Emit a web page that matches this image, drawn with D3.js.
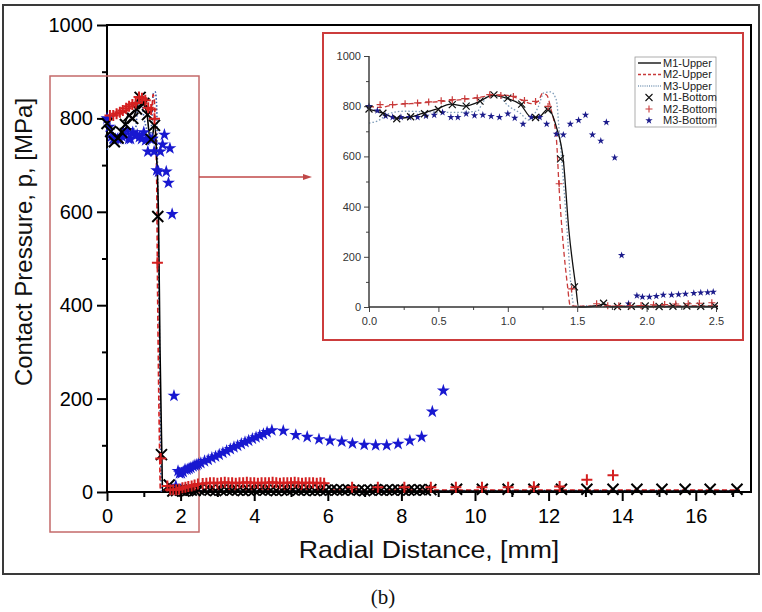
<!DOCTYPE html>
<html>
<head>
<meta charset="utf-8">
<script src="https://cdn.jsdelivr.net/npm/d3@7"></script>
<style>
  html, body { margin: 0; padding: 0; background: #fff; }
  svg { display: block; font-family: Arial, "Liberation Sans", sans-serif; }
</style>
</head>
<body>
<div id="chart"></div>
<script>
/// Tick labels
var mainXTicks = [0, 2, 4, 6, 8, 10, 12, 14, 16];
var mainXMinor = [1, 3, 5, 7, 9, 11, 13, 15, 17];
var mainYTicks = [0, 200, 400, 600, 800, 1000];
var mainYMinor = [100, 300, 500, 700, 900];
var insetXTicks = [0, 0.5, 1.0, 1.5, 2.0, 2.5];
var insetXMinor = [0.25, 0.75, 1.25, 1.75, 2.25];
var insetYTicks = [0, 200, 400, 600, 800, 1000];
var insetYMinor = [100, 300, 500, 700, 900];
var seriesNames = ["M1-Upper", "M2-Upper", "M3-Upper", "M1-Bottom", "M2-Bottom", "M3-Bottom"];

/// Upper surface (lines)
var m1UpperX = [0, 0.1, 0.2, 0.29, 0.39, 0.48, 0.59, 0.69, 0.79, 0.89, 1.0, 1.09, 1.17, 1.22, 1.29, 1.35, 1.40, 1.44, 1.49, 1.51, 1.6, 1.65, 1.69, 1.74, 1.85, 2.0, 3, 5, 8, 12, 17.2];
var m1UpperY = [787, 772, 752, 756, 772, 787, 808, 800, 817, 843, 830, 808, 756, 756, 788, 717, 585, 306, 80, 0, 2, 6, 12, 1, 2, 2, 2, 2, 2, 2, 2];
var m2UpperX = [0, 0.08, 0.17, 0.3, 0.5, 0.7, 0.85, 0.92, 1.0, 1.1, 1.17, 1.22, 1.25, 1.28, 1.31, 1.35, 1.37, 1.40, 1.43, 1.45, 1.5, 2.0, 4, 8, 12, 17.2];
var m2UpperY = [800, 795, 805, 810, 818, 828, 840, 845, 843, 825, 810, 820, 851, 845, 790, 670, 470, 245, 85, 5, 3, 4, 5, 4, 4, 4];
var m3UpperX = [0, 0.06, 0.15, 0.25, 0.4, 0.6, 0.78, 0.82, 0.86, 0.93, 1.0, 1.09, 1.15, 1.22, 1.26, 1.31, 1.35, 1.37, 1.40, 1.43, 1.46, 1.48, 1.55, 1.6, 1.7, 3, 8, 12, 17.2];
var m3UpperY = [733, 741, 772, 780, 778, 775, 780, 815, 840, 842, 803, 772, 745, 798, 853, 857, 824, 705, 506, 282, 57, 0, 5, 4, 2, 3, 3, 3, 3];

/// Bottom surface (markers)
var m1BottomX = [0, 0.1, 0.2, 0.3, 0.4, 0.5, 0.6, 0.7, 0.8, 0.9, 1.0, 1.1, 1.2, 1.29, 1.38, 1.48, 1.69, 1.79, 1.89, 1.99, 2.09, 2.19, 2.29, 2.39, 2.49,
  2.65, 2.8, 2.95, 3.1, 3.25, 3.4, 3.55, 3.7, 3.85, 4.0, 4.15, 4.3, 4.45, 4.6, 4.75, 4.9, 5.05, 5.2, 5.35, 5.5, 5.65, 5.8, 5.95,
  6.1, 6.25, 6.4, 6.55, 6.7, 6.85, 7.0, 7.15, 7.3, 7.45, 7.6, 7.75, 7.9, 8.05, 8.2, 8.35, 8.5, 8.65, 8.8,
  9.5, 10.2, 10.9, 11.6, 12.35, 13.04, 13.75, 14.4, 15.08, 15.71, 16.39, 17.12];
var m1BottomY = [789, 772, 750, 758, 770, 787, 806, 800, 820, 845, 832, 808, 755, 785, 590, 80, 15, 2, 3, 4, 2, 3, 4, 3, 5,
  4, 4, 3, 4, 5, 4, 4, 3, 4, 4, 5, 4, 4, 3, 4, 4, 5, 4, 4, 4, 3, 4, 4,
  5, 4, 4, 5, 4, 4, 3, 4, 5, 4, 4, 4, 5, 4, 4, 4, 5, 4, 5,
  6, 6, 6, 6, 6, 6, 6, 6, 6, 6, 6, 6];
var m2BottomX = [0.08, 0.17, 0.26, 0.35, 0.43, 0.52, 0.6, 0.69, 0.78, 0.87, 0.95, 1.04, 1.12, 1.2, 1.29, 1.37, 1.46, 1.64, 1.72, 1.8, 1.88, 1.96, 2.05, 2.13, 2.21, 2.3, 2.38, 2.47,
  2.6, 2.7, 2.8, 2.9, 3.0, 3.1, 3.2, 3.3, 3.4, 3.5, 3.6, 3.7, 3.8, 3.9, 4.0, 4.1, 4.2, 4.3, 4.4, 4.5, 4.6, 4.7, 4.8, 4.9, 5.0, 5.1, 5.2, 5.3, 5.4, 5.5, 5.6, 5.7, 5.8, 5.9,
  6.66, 7.36, 8.08, 8.8, 9.48, 10.19, 10.9, 11.6, 12.3, 13.04, 13.75];
var m2BottomY = [806, 806, 810, 813, 817, 822, 826, 830, 833, 846, 843, 839, 823, 819, 799, 491, 72, 13, 5, 5, 5, 6, 9, 10, 12, 13, 15, 17,
  18, 19, 20, 20, 19, 20, 21, 20, 20, 19, 20, 20, 21, 20, 20, 19, 20, 20, 20, 21, 20, 19, 20, 20, 20, 21, 20, 19, 20, 20, 20, 19, 20, 19,
  10, 10, 10, 10, 10, 10, 10, 11, 12, 26, 36];
var m3BottomX = [0.0, 0.06, 0.12, 0.17, 0.23, 0.29, 0.35, 0.41, 0.47, 0.53, 0.59, 0.64, 0.70, 0.76, 0.82, 0.88, 0.94, 1.0, 1.05, 1.11, 1.17, 1.23, 1.28, 1.35, 1.40, 1.45, 1.51, 1.56, 1.61, 1.67, 1.71, 1.77, 1.82, 1.87,
  1.93, 1.97, 2.02, 2.07, 2.12, 2.18, 2.23, 2.28, 2.34, 2.39, 2.44, 2.48,
  2.55, 2.65, 2.75, 2.85, 2.95, 3.05, 3.15, 3.25, 3.35, 3.45, 3.55, 3.65, 3.75, 3.85, 3.95, 4.05, 4.15, 4.25, 4.35, 4.48,
  4.79, 5.13, 5.44, 5.76, 6.06, 6.38, 6.67, 6.99, 7.30, 7.60, 7.91, 8.23, 8.55, 8.84, 9.14];
var m3BottomY = [800, 782, 761, 756, 756, 756, 756, 761, 765, 775, 756, 756, 770, 763, 765, 760, 756, 770, 753, 729, 756, 756, 729, 689, 686, 729, 744, 765, 686, 662, 736, 595, 206, 13,
  45, 40, 40, 43, 48, 48, 50, 52, 55, 57, 58, 60,
  62, 66, 69, 73, 76, 80, 84, 88, 92, 96, 99, 103, 107, 110, 114, 117, 121, 124, 128, 132,
  131, 122, 118, 113, 110, 108, 104, 101, 100, 100, 103, 110, 118, 172, 217];

function zip(xs, ys) {
  return xs.map(function (x, i) { return { x: x, y: ys[i] }; });
}

/// Stroke symbols for x and + markers
var symbolTimes = {
  draw: function (ctx, size) {
    var r = Math.sqrt(size) / 2;
    ctx.moveTo(-r, -r); ctx.lineTo(r, r);
    ctx.moveTo(-r, r); ctx.lineTo(r, -r);
  }
};
var symbolPlus = {
  draw: function (ctx, size) {
    var r = Math.sqrt(size) / 2;
    ctx.moveTo(-r, 0); ctx.lineTo(r, 0);
    ctx.moveTo(0, -r); ctx.lineTo(0, r);
  }
};

var svg = d3.select("#chart").append("svg").attr("width", 762).attr("height", 612);

/// Outer picture frame
svg.append("rect").attr("x", 3).attr("y", 5).attr("width", 756).attr("height", 569)
  .attr("fill", "none").attr("stroke", "#3a3a3a").attr("stroke-width", 2);

var xMain = d3.scaleLinear().domain([0, 17.5]).range([107, 751]);
var yMain = d3.scaleLinear().domain([0, 1000]).range([492, 25]);

var xInset = d3.scaleLinear().domain([0, 2.5]).range([369, 716]);
var yInset = d3.scaleLinear().domain([0, 1000]).range([307, 56]);

var mainStyle = {
  lineWidth: 1.6, black: "#000", red: "#d42020", blue: "#1818d0", dotted: "#3a5aa8",
  starSize: 52, timesSize: 121, plusSize: 121, markerWidth: 2
};
var insetStyle = {
  lineWidth: 1.3, black: "#111", red: "#c83a3a", blue: "#1c1c8c", dotted: "#7d9bb8",
  starSize: 17, timesSize: 49, plusSize: 49, markerWidth: 1.2
};

function drawSeries(g, x, y, s, maxX) {
  var line = d3.line()
    .x(function (d) { return x(d.x); })
    .y(function (d) { return y(d.y); })
    .curve(d3.curveMonotoneX);
  var keep = function (d) { return d.x <= maxX; };

  g.append("path").datum(zip(m3UpperX, m3UpperY)).attr("d", line)
    .attr("fill", "none").attr("stroke", s.dotted).attr("stroke-width", s.lineWidth)
    .attr("stroke-dasharray", "1.5,2");
  g.append("path").datum(zip(m2UpperX, m2UpperY)).attr("d", line)
    .attr("fill", "none").attr("stroke", s.red).attr("stroke-width", s.lineWidth)
    .attr("stroke-dasharray", "5,3");
  g.append("path").datum(zip(m1UpperX, m1UpperY)).attr("d", line)
    .attr("fill", "none").attr("stroke", s.black).attr("stroke-width", s.lineWidth);

  g.selectAll(".star").data(zip(m3BottomX, m3BottomY).filter(keep)).enter()
    .append("path").attr("class", "star")
    .attr("d", d3.symbol().type(d3.symbolStar).size(s.starSize))
    .attr("transform", function (d) { return "translate(" + x(d.x) + "," + y(d.y) + ")"; })
    .attr("fill", s.blue);
  g.selectAll(".times").data(zip(m1BottomX, m1BottomY).filter(keep)).enter()
    .append("path").attr("class", "times")
    .attr("d", d3.symbol().type(symbolTimes).size(s.timesSize))
    .attr("transform", function (d) { return "translate(" + x(d.x) + "," + y(d.y) + ")"; })
    .attr("fill", "none").attr("stroke", s.black).attr("stroke-width", s.markerWidth);
  g.selectAll(".plus").data(zip(m2BottomX, m2BottomY).filter(keep)).enter()
    .append("path").attr("class", "plus")
    .attr("d", d3.symbol().type(symbolPlus).size(s.plusSize))
    .attr("transform", function (d) { return "translate(" + x(d.x) + "," + y(d.y) + ")"; })
    .attr("fill", "none").attr("stroke", s.red).attr("stroke-width", s.markerWidth);
}

/// Main axes
function styleAxis(g, color, width) {
  g.select(".domain").remove();
  g.selectAll("line").attr("stroke", color).attr("stroke-width", width);
}

svg.append("g").attr("transform", "translate(0,492)")
  .call(d3.axisBottom(xMain).tickValues(mainXMinor).tickSize(5).tickFormat(""))
  .call(styleAxis, "#000", 2);
svg.append("g").attr("transform", "translate(0,492)")
  .call(d3.axisBottom(xMain).tickValues(mainXTicks).tickSize(9).tickPadding(8).tickFormat(d3.format("d")))
  .call(styleAxis, "#000", 2)
  .selectAll("text").attr("font-size", 20).attr("fill", "#000").attr("font-family", "Arial, 'Liberation Sans', sans-serif");
svg.append("g").attr("transform", "translate(107,0)")
  .call(d3.axisLeft(yMain).tickValues(mainYMinor).tickSize(5).tickFormat(""))
  .call(styleAxis, "#000", 2);
svg.append("g").attr("transform", "translate(107,0)")
  .call(d3.axisLeft(yMain).tickValues(mainYTicks).tickSize(10).tickPadding(4).tickFormat(d3.format("d")))
  .call(styleAxis, "#000", 2)
  .selectAll("text").attr("font-size", 20).attr("fill", "#000").attr("font-family", "Arial, 'Liberation Sans', sans-serif");

/// Plot frame
svg.append("path")
  .attr("d", "M" + xMain(0) + "," + yMain(0) + "V" + yMain(1000) + "H" + xMain(17.5) + "V" + yMain(0) + "Z")
  .attr("fill", "none").attr("stroke", "#000").attr("stroke-width", 2);

/// Zoom box and arrow
svg.append("rect").attr("x", 50).attr("y", 76).attr("width", 149).attr("height", 456)
  .attr("fill", "none").attr("stroke", "#c46a6a").attr("stroke-width", 1.5);
svg.append("line").attr("x1", 199).attr("y1", 177).attr("x2", 306).attr("y2", 177)
  .attr("stroke", "#c04848").attr("stroke-width", 1.3);
svg.append("path").attr("d", "M312,177L303,174L303,180Z").attr("fill", "#c04848");

drawSeries(svg.append("g"), xMain, yMain, mainStyle, 100);

/// Axis titles
svg.append("text").attr("transform", "translate(32,242) rotate(-90)")
  .attr("text-anchor", "middle").attr("font-size", 24).attr("fill", "#111")
  .text("Contact Pressure, p, [MPa]");
svg.append("text").attr("transform", "translate(429,558) scale(1.11,1)")
  .attr("text-anchor", "middle").attr("font-size", 24).attr("fill", "#111")
  .text("Radial Distance, [mm]");
svg.append("text").attr("x", 383).attr("y", 604)
  .attr("text-anchor", "middle").attr("font-size", 21)
  .attr("font-family", "'Liberation Serif', 'Times New Roman', serif").attr("fill", "#111")
  .text("(b)");

/// Inset
var inset = svg.append("g");
inset.append("rect").attr("x", 323).attr("y", 33).attr("width", 420).attr("height", 307)
  .attr("fill", "#fff").attr("stroke", "#cc3c3c").attr("stroke-width", 2);

svg.append("clipPath").attr("id", "insetClip").append("rect")
  .attr("x", 362).attr("y", 45).attr("width", 356).attr("height", 272);

inset.append("g").attr("transform", "translate(0,307)")
  .call(d3.axisBottom(xInset).tickValues(insetXMinor).tickSize(3).tickFormat(""))
  .call(styleAxis, "#444", 1);
inset.append("g").attr("transform", "translate(0,307)")
  .call(d3.axisBottom(xInset).tickValues(insetXTicks).tickSize(5).tickPadding(5).tickFormat(d3.format(".1f")))
  .call(styleAxis, "#444", 1)
  .selectAll("text").attr("font-size", 11).attr("fill", "#333").attr("font-family", "Arial, 'Liberation Sans', sans-serif");
inset.append("g").attr("transform", "translate(369,0)")
  .call(d3.axisLeft(yInset).tickValues(insetYMinor).tickSize(3).tickFormat(""))
  .call(styleAxis, "#444", 1);
inset.append("g").attr("transform", "translate(369,0)")
  .call(d3.axisLeft(yInset).tickValues(insetYTicks).tickSize(5).tickPadding(3).tickFormat(d3.format("d")))
  .call(styleAxis, "#444", 1)
  .selectAll("text").attr("font-size", 11).attr("fill", "#333").attr("font-family", "Arial, 'Liberation Sans', sans-serif");

drawSeries(inset.append("g").attr("clip-path", "url(#insetClip)"), xInset, yInset, insetStyle, 2.5);

inset.append("path")
  .attr("d", "M369,56V307H716")
  .attr("fill", "none").attr("stroke", "#333").attr("stroke-width", 1.4);

/// Inset legend
var legend = inset.append("g");
legend.append("rect").attr("x", 635).attr("y", 57).attr("width", 81).attr("height", 70)
  .attr("fill", "#fff").attr("stroke", "#999").attr("stroke-width", 0.8);
var legendRows = legend.selectAll(".row").data(seriesNames).enter()
  .append("g").attr("class", "row")
  .attr("transform", function (d, i) { return "translate(0," + (63 + i * 11.5) + ")"; });
legendRows.append("text").attr("x", 663).attr("dy", "0.35em")
  .attr("font-size", 11).attr("fill", "#222").text(function (d) { return d; });
legendRows.filter(function (d, i) { return i < 3; }).append("line")
  .attr("x1", 638).attr("x2", 661)
  .attr("stroke", function (d, i) { return [insetStyle.black, insetStyle.red, insetStyle.dotted][i]; })
  .attr("stroke-width", 1.4)
  .attr("stroke-dasharray", function (d, i) { return [null, "3,2", "1,1.2"][i]; });
legendRows.filter(function (d, i) { return i === 3; }).append("path")
  .attr("transform", "translate(649,0)")
  .attr("d", d3.symbol().type(symbolTimes).size(49))
  .attr("fill", "none").attr("stroke", "#111").attr("stroke-width", 1.1);
legendRows.filter(function (d, i) { return i === 4; }).append("path")
  .attr("transform", "translate(649,0)")
  .attr("d", d3.symbol().type(symbolPlus).size(49))
  .attr("fill", "none").attr("stroke", insetStyle.red).attr("stroke-width", 1.1);
legendRows.filter(function (d, i) { return i === 5; }).append("path")
  .attr("transform", "translate(649,0)")
  .attr("d", d3.symbol().type(d3.symbolStar).size(17))
  .attr("fill", insetStyle.blue);
</script>
</body>
</html>
